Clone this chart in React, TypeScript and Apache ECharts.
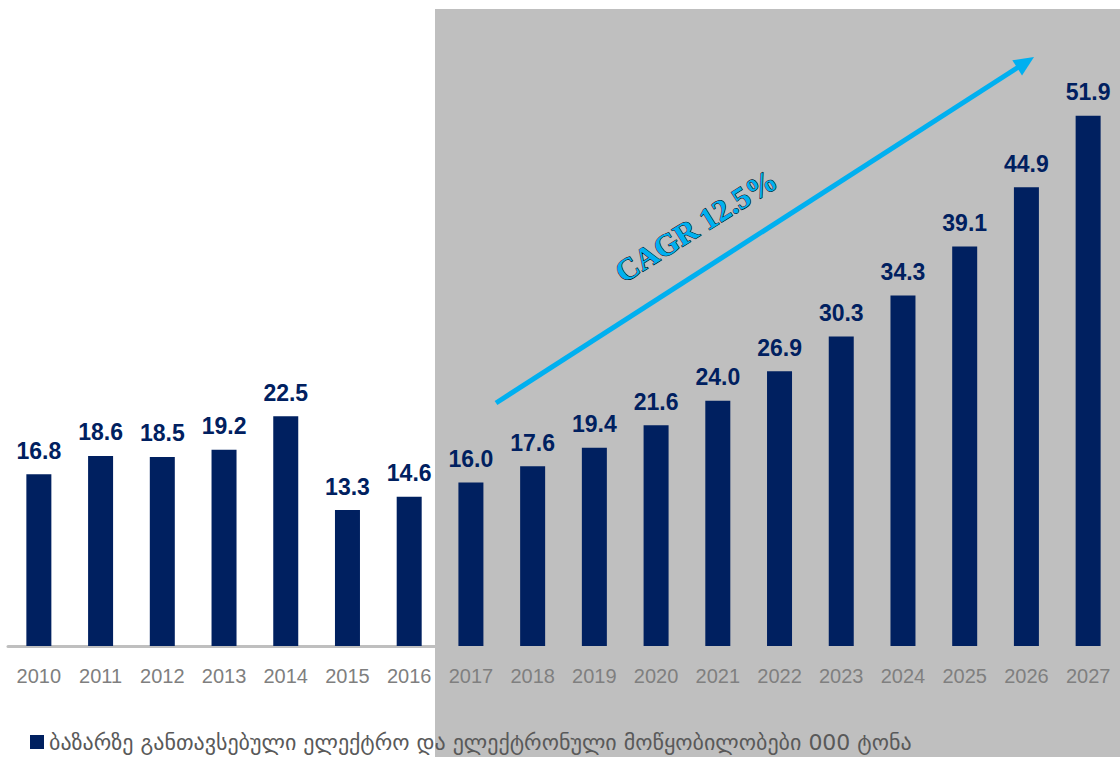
import React, { useEffect, useRef } from "react";
import * as echarts from "echarts";

const years = ["2010","2011","2012","2013","2014","2015","2016","2017","2018","2019","2020","2021","2022","2023","2024","2025","2026","2027"];
const values = [16.8,18.6,18.5,19.2,22.5,13.3,14.6,16.0,17.6,19.4,21.6,24.0,26.9,30.3,34.3,39.1,44.9,51.9];
const seriesName = "ბაზარზე განთავსებული ელექტრო და ელექტრონული მოწყობილობები 000 ტონა";
const cagrText = "CAGR 12.5%";

export default function App() {
  const ref = useRef<HTMLDivElement>(null);
  useEffect(() => {
    if (!ref.current) return;
    const chart = echarts.init(ref.current, undefined, { renderer: "svg" });
    const tip = [1034, 57];
    const tail = [496, 403];
    const dx = tip[0] - tail[0], dy = tip[1] - tail[1];
    const len = Math.sqrt(dx * dx + dy * dy);
    const ux = dx / len, uy = dy / len;
    const nx = -uy, ny = ux;
    const hl = 20, hw = 9;
    const bx = tip[0] - ux * hl, by = tip[1] - uy * hl;
    chart.setOption({
      animation: false,
      backgroundColor: "#ffffff",
      graphic: [
        { type: "rect", z: -10, shape: { x: 435, y: 9, width: 685, height: 748 }, style: { fill: "#bfbfbf" } },
        { type: "line", z: 100, shape: { x1: tail[0], y1: tail[1], x2: bx + ux * 2, y2: by + uy * 2 }, style: { stroke: "#00b0f0", lineWidth: 5 } },
        { type: "polygon", z: 100, shape: { points: [[tip[0], tip[1]], [bx + nx * hw, by + ny * hw], [bx - nx * hw, by - ny * hw]] }, style: { fill: "#00b0f0" } },
        {
          type: "text", z: 100, x: 696, y: 226, rotation: 32 * Math.PI / 180,
          style: { text: cagrText, fill: "#00b0f0", stroke: "#000000", lineWidth: 1, font: "bold 31px 'Liberation Serif', 'Times New Roman', serif", align: "center", verticalAlign: "middle" }
        }
      ],
      legend: {
        data: [seriesName],
        left: 30, top: 731, padding: 0,
        icon: "rect", itemWidth: 14, itemHeight: 14,
        textStyle: { color: "#595959", fontSize: 22, fontFamily: "'DejaVu Sans', sans-serif" }
      },
      grid: { left: 8, right: 1, top: 33, bottom: 111, containLabel: false },
      xAxis: {
        type: "category", data: years,
        axisLine: { show: true, lineStyle: { color: "#bfbfbf", width: 3 } },
        axisTick: { show: false },
        axisLabel: { color: "#7f7f7f", fontSize: 20, fontFamily: "Arial, 'Liberation Sans', sans-serif", margin: 20, interval: 0 }
      },
      yAxis: { type: "value", min: 0, max: 60, show: false, splitLine: { show: false } },
      series: [{
        name: seriesName, type: "bar", data: values, barWidth: 25,
        itemStyle: { color: "#002060" },
        label: { show: true, position: "top", distance: 12, formatter: (p: any) => p.value.toFixed(1), color: "#002060", fontSize: 23, fontWeight: "bold", fontFamily: "Arial, 'Liberation Sans', sans-serif" }
      }]
    });
    return () => chart.dispose();
  }, []);
  return <div ref={ref} style={{ position: "fixed", left: 0, top: 0, width: 1120, height: 757 }} />;
}
